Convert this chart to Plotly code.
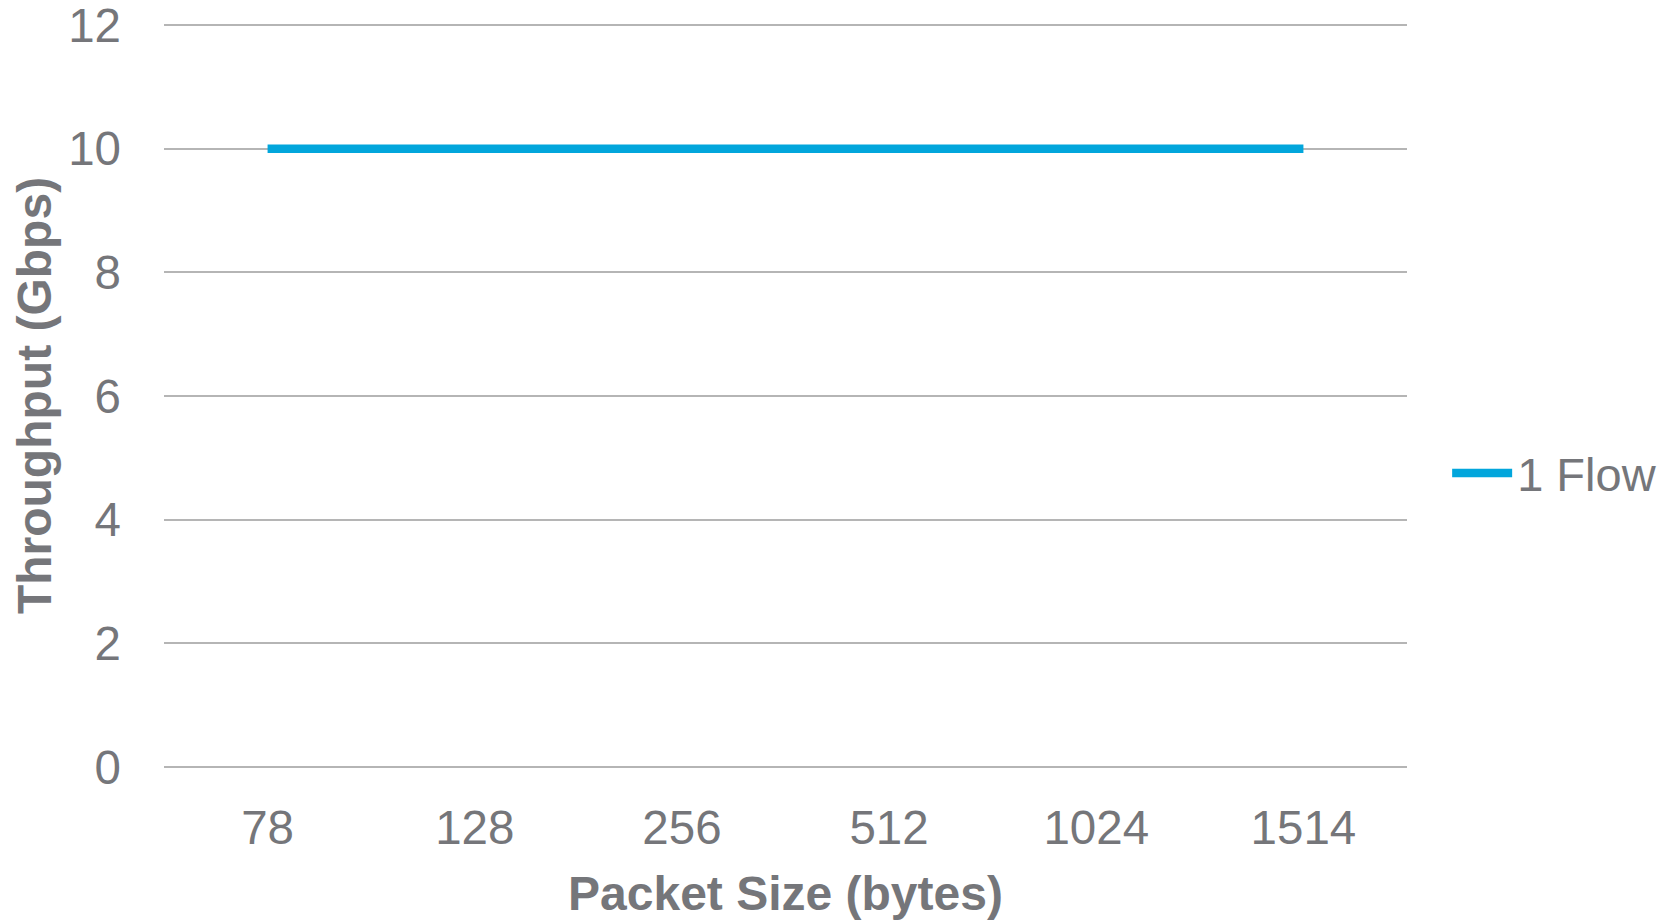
import plotly.graph_objects as go

packet_sizes = ["78", "128", "256", "512", "1024", "1514"]
throughput_1flow = [10, 10, 10, 10, 10, 10]
y_ticks = [0, 2, 4, 6, 8, 10, 12]

TEXT = "#75767a"
GRID = "#b5b5b5"
BLUE = "#02a6dc"
FONT = "Liberation Sans, Arial, sans-serif"

fig = go.Figure()
fig.add_trace(go.Scatter(
    x=packet_sizes, y=throughput_1flow, mode="lines", name="1 Flow",
    line=dict(color=BLUE, width=8.5),
))

fig.update_layout(
    width=1673, height=923,
    margin=dict(l=164, r=266, t=24, b=156, autoexpand=False),
    paper_bgcolor="white", plot_bgcolor="white",
    font=dict(family=FONT, color=TEXT, size=47),
    showlegend=True,
    legend=dict(xref="container", x=0.865, y=0.395, xanchor="left", yanchor="middle",
                font=dict(size=47, color=TEXT), itemwidth=60,
                bgcolor="rgba(0,0,0,0)"),
    xaxis=dict(
        type="category", range=[-0.5, 5.5], showgrid=False, zeroline=False, showline=False,
        ticks="", ticklabelstandoff=28, automargin=False,
        tickfont=dict(size=47.5, color=TEXT),
        title=dict(text="<b>Packet Size (bytes)</b>", font=dict(size=48, color=TEXT), standoff=23),
    ),
    yaxis=dict(
        range=[0, 12.02], tickvals=y_ticks, showgrid=True, gridcolor=GRID, gridwidth=1.5,
        zeroline=True, zerolinecolor=GRID, zerolinewidth=1.5,
        showline=False, ticks="", ticklabelstandoff=42, automargin=False,
        ticklabeloverflow="allow",
        tickfont=dict(size=47.5, color=TEXT),
        title=dict(text="<b>Throughput (Gbps)</b>", font=dict(size=48, color=TEXT), standoff=1),
    ),
)

fig.write_html("out.html")
